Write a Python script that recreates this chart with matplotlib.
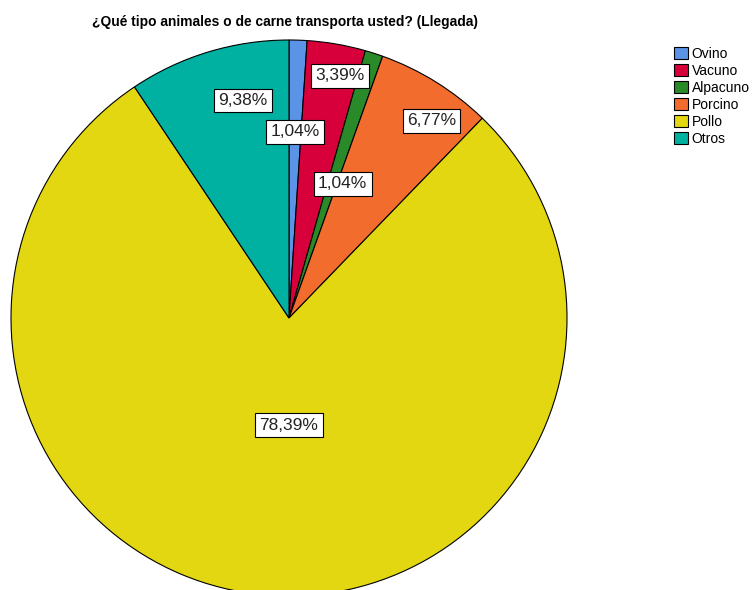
import matplotlib
matplotlib.use('Agg')
import matplotlib.pyplot as plt
import numpy as np

plt.rcParams['font.family'] = ['Liberation Sans', 'DejaVu Sans']

# data
categories = ["Ovino", "Vacuno", "Alpacuno", "Porcino", "Pollo", "Otros"]
percentages = [1.04, 3.39, 1.04, 6.77, 78.39, 9.38]
labels = ["1,04%", "3,39%", "1,04%", "6,77%", "78,39%", "9,38%"]
colors = ["#5b93e6", "#d8003a", "#2a8a2a", "#f26c2e", "#e2d710", "#00b0a0"]

# label placement style (fraction of radius, angle shift in degrees)
label_r = [0.67, 0.89, 0.52, 0.875, 0.385, 0.80]
label_shift = [0, -2, -4, -4, 5, -5]

W, H = 756, 590
cx, cy, R = 289, 318, 278

fig = plt.figure(figsize=(W / 100, H / 100), dpi=100)
ax = fig.add_axes([0, 0, 1, 1])

wedges, _ = ax.pie(percentages, colors=colors, radius=R, startangle=90,
                   counterclock=False, normalize=True,
                   wedgeprops=dict(edgecolor='black', linewidth=0.8))
ax.set_aspect('auto')
ax.set_xlim(-cx, W - cx)
ax.set_ylim(cy - H, cy)
ax.axis('off')

for w, lab, rf, sh in zip(wedges, labels, label_r, label_shift):
    ang = np.deg2rad((w.theta1 + w.theta2) / 2 + sh)
    ax.text(rf * R * np.cos(ang), rf * R * np.sin(ang), lab, ha='center', va='center',
            fontsize=12.5, color='#222222',
            bbox=dict(boxstyle='square,pad=0.25', facecolor='white', edgecolor='black', linewidth=0.8))

fig.text(285 / W, 1 - 22 / H, "¿Qué tipo animales o de carne transporta usted? (Llegada)",
         ha='center', va='center', fontsize=9.9, fontweight='bold')

leg = fig.legend(wedges, categories, loc='upper left', bbox_to_anchor=(664 / W, 1 - 37 / H),
                 frameon=False, fontsize=10, handlelength=1.0, handleheight=1.0,
                 handletextpad=0.3, labelspacing=0.22, borderpad=0.2)
for p in leg.get_patches():
    p.set_edgecolor('black')
    p.set_linewidth(0.8)

fig.savefig("out.png", dpi=100)
